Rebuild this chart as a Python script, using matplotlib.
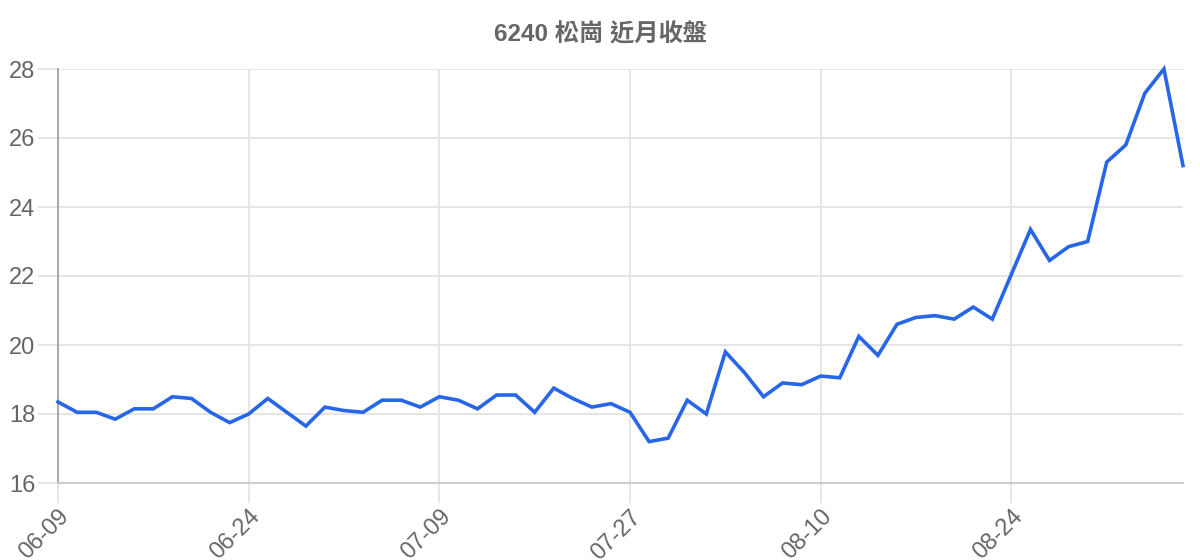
import matplotlib
matplotlib.use("Agg")
import matplotlib.pyplot as plt

# closing prices, one per trading day (60 points)
closes = [
    18.35, 18.05, 18.05, 17.85, 18.15, 18.15, 18.50, 18.45, 18.05, 17.75,
    18.00, 18.45, 18.05, 17.65, 18.20, 18.10, 18.05, 18.40, 18.40, 18.20,
    18.50, 18.40, 18.15, 18.55, 18.55, 18.05, 18.75, 18.45, 18.20, 18.30,
    18.05, 17.20, 17.30, 18.40, 18.00, 19.80, 19.20, 18.50, 18.90, 18.85,
    19.10, 19.05, 20.25, 19.70, 20.60, 20.80, 20.85, 20.75, 21.10, 20.75,
    22.05, 23.35, 22.45, 22.85, 23.00, 25.30, 25.80, 27.30, 28.00, 25.20,
]
tick_idx = [0, 10, 20, 30, 40, 50]
tick_labels = ['06-09', '06-24', '07-09', '07-27', '08-10', '08-24']
y_ticks = [16, 18, 20, 22, 24, 26, 28]
title = '6240 松崗 近月收盤'

plt.rcParams['font.family'] = ['Liberation Sans', 'Noto Sans CJK TC', 'DejaVu Sans']

fig = plt.figure(figsize=(12, 5.6), dpi=100)
ax = fig.add_axes([58 / 1200, 1 - 483 / 560, (1183 - 58) / 1200, (483 - 69) / 560])

ax.plot(range(len(closes)), closes, color='#2766e6', linewidth=2.6,
        solid_joinstyle='miter', clip_on=False, zorder=3)

ax.set_xlim(0, len(closes) - 1)
ax.set_ylim(16, 28)
ax.set_xticks(tick_idx)
ax.set_xticklabels(tick_labels, rotation=45, ha='right', rotation_mode='anchor')
ax.set_yticks(y_ticks)

ax.grid(True, color='#e3e3e3', linewidth=1.3)
ax.tick_params(axis='both', length=14.4, width=1.3, color='#e3e3e3',
               labelsize=17, labelcolor='#666666', pad=2)

for side in ['top', 'right']:
    ax.spines[side].set_visible(False)
ax.spines['left'].set_color('#a8a8a8')
ax.spines['left'].set_linewidth(1.4)
ax.spines['bottom'].set_color('#cccccc')
ax.spines['bottom'].set_linewidth(1.4)

fig.text(0.5, 1 - 35 / 560, title, ha='center', va='center',
         fontsize=17.5, fontweight='bold', color='#666666')

fig.savefig('out.png', dpi=100)
